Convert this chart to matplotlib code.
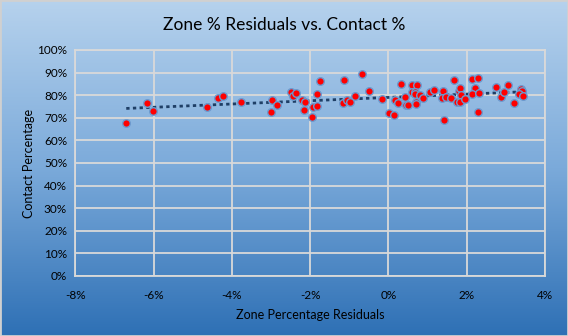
import numpy as np
import matplotlib
matplotlib.use('Agg')
import matplotlib.pyplot as plt
from matplotlib.colors import LinearSegmentedColormap
from matplotlib.ticker import PercentFormatter

plt.rcParams['font.family'] = ['Lato', 'DejaVu Sans']
plt.rcParams['axes.unicode_minus'] = False

# zone % residuals (in %) and contact %
zone_resid = [-6.70, -6.16, -6.01, -4.63, -4.35, -4.22, -3.76, -3.00, -2.97, -2.84,
              -2.49, -2.44, -2.36, -2.21, -2.12, -2.16, -1.95, -1.92, -1.82, -1.82,
              -1.75, -1.13, -0.67, -0.49, -1.16, -1.06, -0.97, -0.85, -0.16, 0.02,
              0.14, 0.17, 0.25, 0.32, 0.41, 0.45, 0.50, 0.60, 0.73, 0.60,
              0.69, 0.68, 0.70, 0.70, 0.80, 0.89, 1.06, 1.17, 1.39, 1.37,
              1.42, 1.48, 1.60, 1.68, 1.74, 1.81, 1.83, 1.86, 1.83, 1.96,
              2.14, 2.29, 2.21, 2.14, 2.31, 2.29, 2.75, 2.88, 2.95, 3.06,
              3.21, 3.39, 3.41, 3.34, 3.44]
contact = [67.6, 76.4, 72.9, 74.6, 78.6, 79.5, 76.9, 72.4, 77.7, 75.5,
           81.3, 79.8, 80.8, 77.7, 76.9, 73.3, 70.2, 74.6, 75.1, 80.4,
           86.1, 86.6, 89.2, 81.7, 76.4, 78.0, 76.9, 79.5, 78.2, 72.0,
           71.1, 77.7, 76.4, 84.8, 79.1, 75.5, 75.5, 84.4, 84.4, 81.3,
           81.6, 80.4, 77.1, 76.1, 80.1, 78.6, 81.3, 82.2, 81.7, 78.6,
           68.9, 79.1, 78.6, 86.6, 76.9, 81.7, 83.1, 80.0, 76.9, 78.2,
           87.0, 87.5, 83.1, 80.4, 80.8, 72.4, 83.5, 79.1, 81.3, 84.4,
           76.4, 82.6, 81.7, 80.4, 79.5]

x = np.array(zone_resid)
y = np.array(contact)

fig = plt.figure(figsize=(5.68, 3.36), dpi=100)

# gradient background
bg = fig.add_axes([0, 0, 1, 1], zorder=-1)
cmap = LinearSegmentedColormap.from_list('bg', ['#B6D2ED', '#7BAADA', '#2E70B5'])
bg.imshow(np.linspace(0, 1, 256).reshape(-1, 1), aspect='auto', cmap=cmap,
          extent=[0, 1, 0, 1])
bg.set_axis_off()
fig.patches.append(plt.Rectangle((0, 0), 1, 1, transform=fig.transFigure,
                                 fill=False, edgecolor='#D0D0D0', lw=2))

ax = fig.add_axes([0.1327, 0.1786, 0.8268, 0.6726])
ax.patch.set_alpha(0)

ax.scatter(x, y, s=30, color='#FF0000', edgecolor='#6A9BD0', linewidth=1, zorder=3)

# linear trendline
k, b = np.polyfit(x, y, 1)
tx = np.array([x.min(), x.max()])
ax.plot(tx, k * tx + b, linestyle=(0, (1.2, 1.2)), color='#1F3F66', lw=2, zorder=2)

ax.set_xlim(-8, 4)
ax.set_ylim(0, 100)
ax.set_xticks(np.arange(-8, 4.1, 2))
ax.set_yticks(np.arange(0, 101, 10))
ax.xaxis.set_major_formatter(PercentFormatter(decimals=0))
ax.yaxis.set_major_formatter(PercentFormatter(decimals=0))
ax.grid(True, color='#D9D9D9', lw=1.3)
ax.set_axisbelow(True)
for s in ax.spines.values():
    s.set_color('#D9D9D9')
    s.set_linewidth(1.3)
ax.tick_params(length=0, labelsize=8.5, colors='black', pad=6)
ax.tick_params(axis='x', pad=10)

ax.set_xlabel('Zone Percentage Residuals', fontsize=9, labelpad=6)
ax.set_ylabel('Contact Percentage', fontsize=9)
ax.yaxis.set_label_coords(-0.085, 0.5)
fig.text(0.5, 0.925, 'Zone % Residuals vs. Contact %', ha='center', va='center', fontsize=12.5)

fig.savefig('out.png', dpi=100)
